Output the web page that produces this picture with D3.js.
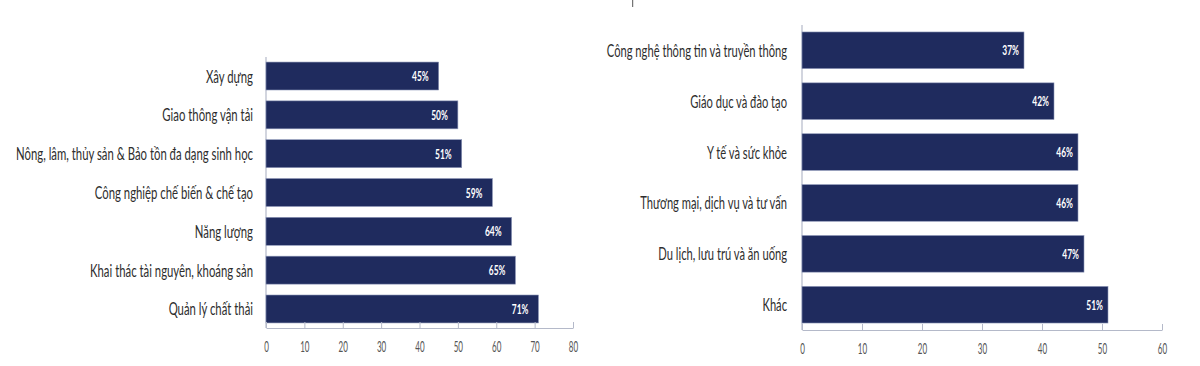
<!DOCTYPE html>
<html><head><meta charset="utf-8">
<script src="https://cdn.jsdelivr.net/npm/d3@7"></script>
<style>
html,body{margin:0;padding:0;background:#fff;}
svg{display:block;}
text{font-family:"Lato","DejaVu Sans",sans-serif;}
</style></head>
<body>
<svg id="chart" width="1200" height="366"></svg>
<script>
const leftCategories = ["Xây dựng","Giao thông vận tải","Nông, lâm, thủy sản & Bảo tồn đa dạng sinh học","Công nghiệp chế biến & chế tạo","Năng lượng","Khai thác tài nguyên, khoáng sản","Quản lý chất thải"];
const leftValues = [45,50,51,59,64,65,71];
const leftTicks = [0,10,20,30,40,50,60,70,80];

const rightCategories = ["Công nghệ thông tin và truyền thông","Giáo dục và đào tạo","Y tế và sức khỏe","Thương mại, dịch vụ và tư vấn","Du lịch, lưu trú và ăn uống","Khác"];
const rightValues = [37,42,46,46,47,51];
const rightTicks = [0,10,20,30,40,50,60];

const svg = d3.select("#chart");
const barColor = "#1f2b5e";
const axisColor = "#b4b9c9";

function condense(sel, f){
  sel.each(function(){
    const w = this.getComputedTextLength();
    d3.select(this).attr("textLength", w * f).attr("lengthAdjust", "spacingAndGlyphs");
  });
}

function drawPanel(cfg){
  const g = svg.append("g");
  const x = d3.scaleLinear().domain([0, cfg.max]).range([cfg.x0, cfg.x1]);
  const y = d3.scaleBand().domain(cfg.cats).range([cfg.yTop, cfg.yAxis]).paddingInner(0.28).paddingOuter(cfg.outer);
  g.append("line").attr("x1", cfg.x0).attr("x2", cfg.x0).attr("y1", cfg.yTop).attr("y2", cfg.yAxis)
    .attr("stroke", axisColor).attr("stroke-width", 1.2);
  g.selectAll("rect.bar").data(cfg.cats).enter().append("rect")
    .attr("x", x(0)).attr("y", d => y(d))
    .attr("width", (d,i) => x(cfg.vals[i]) - x(0))
    .attr("height", y.bandwidth())
    .attr("fill", barColor).attr("stroke", "#8e97b8").attr("stroke-width", 0.6);
  const vals = g.selectAll("text.val").data(cfg.cats).enter().append("text")
    .attr("x", (d,i) => x(cfg.vals[i]) - cfg.valPad)
    .attr("y", d => y(d) + y.bandwidth()/2)
    .attr("dy", "0.36em").attr("text-anchor", "end")
    .attr("fill", "#fff").attr("font-size", 14).attr("font-weight", "bold")
    .text((d,i) => cfg.vals[i] + "%");
  condense(vals, 0.6);
  const cats = g.selectAll("text.cat").data(cfg.cats).enter().append("text")
    .attr("x", cfg.x0 - cfg.catPad)
    .attr("y", d => y(d) + y.bandwidth()/2)
    .attr("dy", "0.36em").attr("text-anchor", "end")
    .attr("fill", "#2e2e2e").attr("font-size", 18)
    .text(d => d);
  condense(cats, cfg.catF);
  const ax = d3.axisBottom(x).tickValues(cfg.ticks).tickSize(0).tickPadding(13).tickFormat(d3.format("d"));
  const axg = g.append("g").attr("transform", `translate(0,${cfg.yAxis})`).call(ax);
  axg.select(".domain").attr("stroke", axisColor).attr("stroke-width", 1.2);
  const tt = axg.selectAll(".tick text").attr("fill", "#555").attr("font-size", 16).attr("font-family", "Lato,sans-serif");
  condense(tt, 0.5);
  axg.selectAll(".tick").append("line").attr("y1", 0).attr("y2", -6).attr("stroke", axisColor).attr("stroke-width", 1);
}

drawPanel({cats: leftCategories, vals: leftValues, ticks: leftTicks, max: 80,
  x0: 266, x1: 573, yTop: 57, yAxis: 328, outer: 0.13, valPad: 10, catPad: 13, catF: 0.63});
drawPanel({cats: rightCategories, vals: rightValues, ticks: rightTicks, max: 60,
  x0: 802, x1: 1162, yTop: 25, yAxis: 330, outer: 0.137, valPad: 5, catPad: 15, catF: 0.62});

svg.append("line").attr("x1", 632.7).attr("x2", 632.7).attr("y1", 0).attr("y2", 7).attr("stroke", "#555").attr("stroke-width", 1);
</script>
</body></html>
